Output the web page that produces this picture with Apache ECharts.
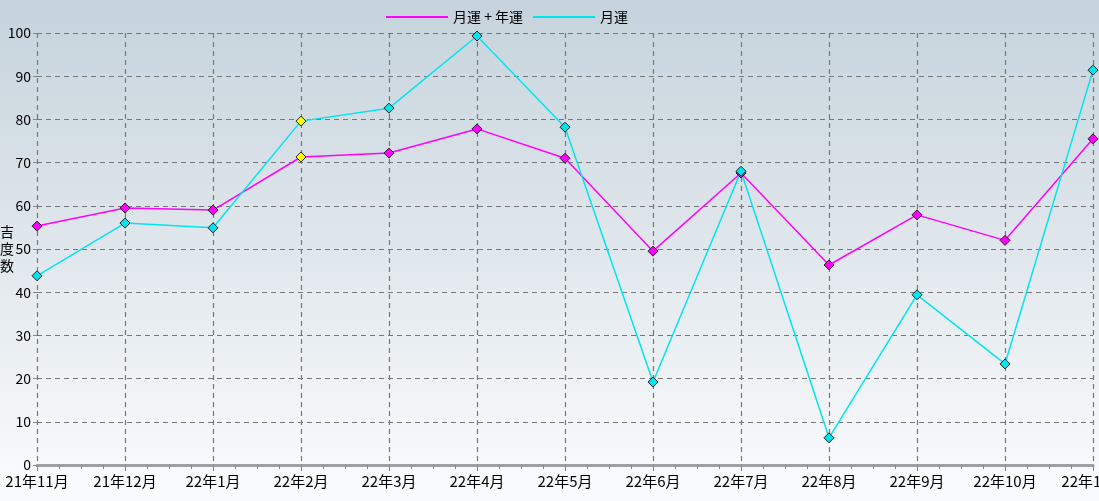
<!DOCTYPE html>
<html><head><meta charset="utf-8">
<script src="https://cdn.jsdelivr.net/npm/echarts@6/dist/echarts.min.js"></script>
<style>html,body{margin:0;padding:0;overflow:hidden}#c{width:1099px;height:501px}</style>
</head><body><div id="c"></div>
<script>
const categories = ['21年11月','21年12月','22年1月','22年2月','22年3月','22年4月','22年5月','22年6月','22年7月','22年8月','22年9月','22年10月','22年11月'];
const seriesNames = ['月運 + 年運','月運'];
const combined = [55.3, 59.5, 59, 71.3, 72.2, 77.8, 71, 49.5, 67.6, 46.3, 57.9, 52, 75.5];
const monthly = [43.8, 56, 54.9, 79.6, 82.6, 99.3, 78.2, 19.2, 68, 6.3, 39.4, 23.4, 91.4];
const highlightIndex = 3;

const chart = echarts.init(document.getElementById('c'));
function mk(arr){
  return arr.map((v,i)=> i===highlightIndex ? {value:v, itemStyle:{color:'#ffff00'}} : v);
}
const font = '"Noto Sans CJK JP", sans-serif';
chart.setOption({
  animation:false,
  color:['#ff00ff','#00e5ee'],
  backgroundColor:{type:'linear',x:0,y:0,x2:0,y2:1,colorStops:[{offset:0,color:'#c6d3dc'},{offset:1,color:'#fbfcfd'}]},
  textStyle:{fontFamily:font},
  legend:{left:381, top:5, itemWidth:62, itemHeight:2, itemGap:10,
    icon:'rect', itemStyle:{borderWidth:0},
    textStyle:{fontSize:14,color:'#000',fontFamily:font},
    data:[{name:seriesNames[0],itemStyle:{color:'#ff00ff',borderWidth:0}},{name:seriesNames[1],itemStyle:{color:'#00e5ee',borderWidth:0}}]},
  grid:{left:37,right:6,top:33,bottom:36,containLabel:false,outerBoundsMode:'none'},
  xAxis:[{type:'category',data:categories,boundaryGap:false,
    axisLine:{lineStyle:{color:'#a0a0a0',width:3}},
    axisTick:{show:true,length:6,lineStyle:{color:'#888'}},
    axisLabel:{color:'#000',fontSize:15,margin:9,fontFamily:font,showMaxLabel:true,hideOverlap:false},
    splitLine:{show:true,lineStyle:{type:[5,4],color:'#777',width:1.2}}},
   {type:'value',min:0,max:12,interval:1,position:'bottom',
    axisLine:{show:false},axisLabel:{show:false},splitLine:{show:false},
    axisTick:{show:false},minorTick:{show:true,splitNumber:4,length:4,lineStyle:{color:'#888'}}}],
  yAxis:{type:'value',min:0,max:100,interval:10,
    name:'吉\n度\n数',nameLocation:'middle',nameGap:23,nameRotate:0,nameMoveOverlap:false,
    nameTextStyle:{color:'#000',fontSize:14,lineHeight:17,fontFamily:font},
    axisLine:{show:false},
    axisTick:{show:true,length:4,lineStyle:{color:'#888'}},
    axisLabel:{color:'#000',fontSize:14,margin:6,fontFamily:font},
    splitLine:{show:true,lineStyle:{type:[5,4],color:'#777',width:1.2}}},
  series:[
    {name:seriesNames[0],type:'line',data:mk(combined),symbol:'diamond',symbolSize:10,
      lineStyle:{color:'#ff00ff',width:1.5},itemStyle:{color:'#ff00ff',borderColor:'#222',borderWidth:1}},
    {name:seriesNames[1],type:'line',data:mk(monthly),symbol:'diamond',symbolSize:10,
      lineStyle:{color:'#00e5ee',width:1.5},itemStyle:{color:'#00e5ee',borderColor:'#222',borderWidth:1}}
  ]
});
</script></body></html>
